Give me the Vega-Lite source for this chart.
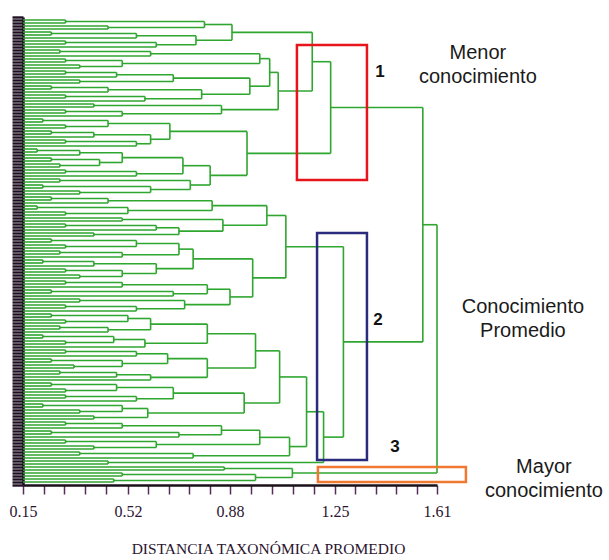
{
"$schema":"https://vega.github.io/schema/vega-lite/v6.json",
"width":414,"height":468,
"autosize":{"type":"none"},
"padding":{"left":23,"top":17,"right":172,"bottom":75},
"background":"white",
"config":{"view":{"stroke":null},"axis":{"grid":false}},
"resolve":{"axis":{"x":"independent","y":"independent"}},
"datasets":{
"h":[
{"y":0,"a":0.15,"b":0.3},{"y":1,"a":0.15,"b":0.3},{"y":2,"a":0.15,"b":0.45},{"y":3,"a":0.15,"b":0.45},{"y":0.5,"a":0.3,"b":0.79},{"y":2.5,"a":0.45,"b":0.79},
{"y":4,"a":0.15,"b":0.25},{"y":5,"a":0.15,"b":0.25},{"y":4.5,"a":0.25,"b":0.55},{"y":6,"a":0.15,"b":0.55},{"y":7,"a":0.15,"b":0.3},{"y":8,"a":0.15,"b":0.3},{"y":7.5,"a":0.3,"b":0.62},{"y":9,"a":0.15,"b":0.62},{"y":5.25,"a":0.55,"b":0.76},{"y":8.25,"a":0.62,"b":0.76},
{"y":1.5,"a":0.79,"b":0.887},{"y":6.75,"a":0.76,"b":0.887},{"y":4.125,"a":0.887,"b":1.17},
{"y":10,"a":0.15,"b":0.28},{"y":11,"a":0.15,"b":0.28},{"y":10.5,"a":0.28,"b":0.6},{"y":12,"a":0.15,"b":0.6},
{"y":13,"a":0.15,"b":0.3},{"y":14,"a":0.15,"b":0.3},{"y":15,"a":0.15,"b":0.35},{"y":16,"a":0.15,"b":0.35},{"y":13.5,"a":0.3,"b":0.5},{"y":15.5,"a":0.35,"b":0.5},
{"y":11.25,"a":0.6,"b":0.985},{"y":14.5,"a":0.5,"b":0.985},{"y":12.875,"a":0.985,"b":1.02},
{"y":17,"a":0.15,"b":0.3},{"y":18,"a":0.15,"b":0.3},{"y":17.5,"a":0.3,"b":0.48},{"y":19,"a":0.15,"b":0.48},{"y":20,"a":0.15,"b":0.35},{"y":21,"a":0.15,"b":0.35},{"y":18.25,"a":0.48,"b":0.68},{"y":20.5,"a":0.35,"b":0.68},
{"y":22,"a":0.15,"b":0.25},{"y":23,"a":0.15,"b":0.25},{"y":22.5,"a":0.25,"b":0.45},{"y":24,"a":0.15,"b":0.45},{"y":25,"a":0.15,"b":0.3},{"y":26,"a":0.15,"b":0.3},{"y":25.5,"a":0.3,"b":0.58},{"y":27,"a":0.15,"b":0.58},{"y":23.25,"a":0.45,"b":0.78},{"y":26.25,"a":0.58,"b":0.78},
{"y":19.375,"a":0.68,"b":0.95},{"y":24.75,"a":0.78,"b":0.95},{"y":22.06,"a":0.95,"b":1.02},{"y":17.47,"a":1.02,"b":1.05},
{"y":28,"a":0.15,"b":0.4},{"y":29,"a":0.15,"b":0.4},{"y":30,"a":0.15,"b":0.3},{"y":31,"a":0.15,"b":0.3},{"y":30.5,"a":0.3,"b":0.5},{"y":32,"a":0.15,"b":0.5},{"y":28.5,"a":0.4,"b":0.85},{"y":31.25,"a":0.5,"b":0.85},{"y":29.875,"a":0.85,"b":1.05},
{"y":23.67,"a":1.05,"b":1.17},{"y":13.9,"a":1.17,"b":1.235},
{"y":33,"a":0.15,"b":0.22},{"y":34,"a":0.15,"b":0.22},{"y":35,"a":0.15,"b":0.3},{"y":36,"a":0.15,"b":0.3},{"y":33.5,"a":0.22,"b":0.45},{"y":35.5,"a":0.3,"b":0.45},
{"y":37,"a":0.15,"b":0.25},{"y":38,"a":0.15,"b":0.25},{"y":37.5,"a":0.25,"b":0.4},{"y":39,"a":0.15,"b":0.4},
{"y":40,"a":0.15,"b":0.3},{"y":41,"a":0.15,"b":0.3},{"y":40.5,"a":0.3,"b":0.55},{"y":42,"a":0.15,"b":0.55},
{"y":38.25,"a":0.4,"b":0.6},{"y":41.25,"a":0.55,"b":0.6},
{"y":34.5,"a":0.45,"b":0.668},{"y":39.75,"a":0.6,"b":0.668},{"y":37.125,"a":0.668,"b":0.94},
{"y":43,"a":0.15,"b":0.2},{"y":44,"a":0.15,"b":0.2},{"y":43.5,"a":0.2,"b":0.35},{"y":45,"a":0.15,"b":0.35},
{"y":46,"a":0.15,"b":0.25},{"y":47,"a":0.15,"b":0.25},{"y":48,"a":0.15,"b":0.28},{"y":49,"a":0.15,"b":0.28},{"y":46.5,"a":0.25,"b":0.42},{"y":48.5,"a":0.28,"b":0.42},
{"y":44.25,"a":0.35,"b":0.5},{"y":47.5,"a":0.42,"b":0.5},
{"y":50,"a":0.15,"b":0.3},{"y":51,"a":0.15,"b":0.3},{"y":50.5,"a":0.3,"b":0.55},{"y":52,"a":0.15,"b":0.55},
{"y":45.875,"a":0.5,"b":0.714},{"y":51.25,"a":0.55,"b":0.714},{"y":48.56,"a":0.714,"b":0.81},
{"y":53,"a":0.15,"b":0.28},{"y":54,"a":0.15,"b":0.28},
{"y":55,"a":0.15,"b":0.22},{"y":56,"a":0.15,"b":0.22},{"y":57,"a":0.15,"b":0.35},{"y":58,"a":0.15,"b":0.35},{"y":55.5,"a":0.22,"b":0.6},{"y":57.5,"a":0.35,"b":0.6},
{"y":53.5,"a":0.28,"b":0.74},{"y":56.5,"a":0.6,"b":0.74},{"y":55,"a":0.74,"b":0.81},
{"y":51.78,"a":0.81,"b":0.94},{"y":44.45,"a":0.94,"b":1.235},{"y":29.18,"a":1.235,"b":1.56},
{"y":59,"a":0.15,"b":0.25},{"y":60,"a":0.15,"b":0.25},{"y":59.5,"a":0.25,"b":0.45},{"y":61,"a":0.15,"b":0.45},
{"y":62,"a":0.15,"b":0.2},{"y":63,"a":0.15,"b":0.2},{"y":64,"a":0.15,"b":0.3},{"y":65,"a":0.15,"b":0.3},{"y":62.5,"a":0.2,"b":0.52},{"y":64.5,"a":0.3,"b":0.52},
{"y":60.25,"a":0.45,"b":0.817},{"y":63.5,"a":0.52,"b":0.817},{"y":61.875,"a":0.817,"b":1.01},
{"y":66,"a":0.15,"b":0.5},{"y":67,"a":0.15,"b":0.5},
{"y":68,"a":0.15,"b":0.3},{"y":69,"a":0.15,"b":0.3},{"y":68.5,"a":0.3,"b":0.62},{"y":70,"a":0.15,"b":0.62},
{"y":71,"a":0.15,"b":0.4},{"y":72,"a":0.15,"b":0.4},
{"y":69.25,"a":0.62,"b":0.7},{"y":71.5,"a":0.4,"b":0.7},
{"y":66.5,"a":0.5,"b":0.855},{"y":70.375,"a":0.7,"b":0.855},{"y":68.44,"a":0.855,"b":1.01},
{"y":65.16,"a":1.01,"b":1.077},
{"y":73,"a":0.15,"b":0.25},{"y":74,"a":0.15,"b":0.25},{"y":75,"a":0.15,"b":0.3},{"y":76,"a":0.15,"b":0.3},{"y":73.5,"a":0.25,"b":0.55},{"y":75.5,"a":0.3,"b":0.55},
{"y":77,"a":0.15,"b":0.28},{"y":78,"a":0.15,"b":0.28},{"y":77.5,"a":0.28,"b":0.5},{"y":79,"a":0.15,"b":0.5},
{"y":74.5,"a":0.55,"b":0.7},{"y":78.25,"a":0.5,"b":0.7},{"y":76.375,"a":0.7,"b":0.75},
{"y":80,"a":0.15,"b":0.22},{"y":81,"a":0.15,"b":0.22},{"y":80.5,"a":0.22,"b":0.4},{"y":82,"a":0.15,"b":0.4},
{"y":83,"a":0.15,"b":0.3},{"y":84,"a":0.15,"b":0.3},{"y":85,"a":0.15,"b":0.35},{"y":86,"a":0.15,"b":0.35},{"y":83.5,"a":0.3,"b":0.5},{"y":85.5,"a":0.35,"b":0.5},
{"y":81.25,"a":0.4,"b":0.62},{"y":84.5,"a":0.5,"b":0.62},{"y":82.875,"a":0.62,"b":0.75},
{"y":79.625,"a":0.75,"b":0.96},
{"y":87,"a":0.15,"b":0.3},{"y":88,"a":0.15,"b":0.3},{"y":87.5,"a":0.3,"b":0.5},{"y":89,"a":0.15,"b":0.5},
{"y":90,"a":0.15,"b":0.25},{"y":91,"a":0.15,"b":0.25},{"y":90.5,"a":0.25,"b":0.68},{"y":92,"a":0.15,"b":0.68},
{"y":88.25,"a":0.5,"b":0.8},{"y":91.25,"a":0.68,"b":0.8},{"y":89.75,"a":0.8,"b":0.88},
{"y":93,"a":0.15,"b":0.35},{"y":94,"a":0.15,"b":0.35},
{"y":95,"a":0.15,"b":0.3},{"y":96,"a":0.15,"b":0.3},{"y":95.5,"a":0.3,"b":0.55},{"y":97,"a":0.15,"b":0.55},
{"y":93.5,"a":0.35,"b":0.72},{"y":96.25,"a":0.55,"b":0.72},{"y":94.875,"a":0.72,"b":0.88},
{"y":92.31,"a":0.88,"b":0.96},{"y":85.97,"a":0.96,"b":1.077},{"y":75.57,"a":1.077,"b":1.28},
{"y":98,"a":0.15,"b":0.25},{"y":99,"a":0.15,"b":0.25},{"y":100,"a":0.15,"b":0.3},{"y":101,"a":0.15,"b":0.3},{"y":98.5,"a":0.25,"b":0.52},{"y":100.5,"a":0.3,"b":0.52},
{"y":102,"a":0.15,"b":0.28},{"y":103,"a":0.15,"b":0.28},{"y":102.5,"a":0.28,"b":0.45},{"y":104,"a":0.15,"b":0.45},
{"y":99.5,"a":0.52,"b":0.6},{"y":103.25,"a":0.45,"b":0.6},
{"y":105,"a":0.15,"b":0.22},{"y":106,"a":0.15,"b":0.22},{"y":107,"a":0.15,"b":0.3},{"y":108,"a":0.15,"b":0.3},{"y":105.5,"a":0.22,"b":0.47},{"y":107.5,"a":0.3,"b":0.47},
{"y":106.5,"a":0.47,"b":0.58},{"y":109,"a":0.15,"b":0.58},
{"y":101.375,"a":0.6,"b":0.8},{"y":107.75,"a":0.58,"b":0.8},{"y":104.56,"a":0.8,"b":0.97},
{"y":110,"a":0.15,"b":0.3},{"y":111,"a":0.15,"b":0.3},{"y":110.5,"a":0.3,"b":0.55},{"y":112,"a":0.15,"b":0.55},
{"y":113,"a":0.15,"b":0.25},{"y":114,"a":0.15,"b":0.25},{"y":115,"a":0.15,"b":0.33},{"y":116,"a":0.15,"b":0.33},{"y":113.5,"a":0.25,"b":0.5},{"y":115.5,"a":0.33,"b":0.5},
{"y":111.25,"a":0.55,"b":0.66},{"y":114.5,"a":0.5,"b":0.66},
{"y":117,"a":0.15,"b":0.28},{"y":118,"a":0.15,"b":0.28},{"y":117.5,"a":0.28,"b":0.48},{"y":119,"a":0.15,"b":0.48},
{"y":118.25,"a":0.48,"b":0.6},{"y":120,"a":0.15,"b":0.6},
{"y":112.875,"a":0.66,"b":0.8},{"y":119.125,"a":0.6,"b":0.8},{"y":116,"a":0.8,"b":0.97},
{"y":110.28,"a":0.97,"b":1.055},
{"y":121,"a":0.15,"b":0.25},{"y":122,"a":0.15,"b":0.25},{"y":123,"a":0.15,"b":0.3},{"y":124,"a":0.15,"b":0.3},{"y":121.5,"a":0.25,"b":0.48},{"y":123.5,"a":0.3,"b":0.48},
{"y":125,"a":0.15,"b":0.3},{"y":126,"a":0.15,"b":0.3},{"y":125.5,"a":0.3,"b":0.55},{"y":127,"a":0.15,"b":0.55},
{"y":122.5,"a":0.48,"b":0.68},{"y":126.25,"a":0.55,"b":0.68},
{"y":128,"a":0.15,"b":0.22},{"y":129,"a":0.15,"b":0.22},{"y":130,"a":0.15,"b":0.35},{"y":131,"a":0.15,"b":0.35},{"y":128.5,"a":0.22,"b":0.5},{"y":130.5,"a":0.35,"b":0.5},
{"y":132,"a":0.15,"b":0.4},{"y":133,"a":0.15,"b":0.4},
{"y":129.5,"a":0.5,"b":0.59},{"y":132.5,"a":0.4,"b":0.59},
{"y":124.375,"a":0.68,"b":0.93},{"y":131,"a":0.59,"b":0.93},{"y":127.69,"a":0.93,"b":1.055},
{"y":118.98,"a":1.055,"b":1.15},
{"y":134,"a":0.15,"b":0.3},{"y":135,"a":0.15,"b":0.3},{"y":134.5,"a":0.3,"b":0.5},{"y":136,"a":0.15,"b":0.5},
{"y":137,"a":0.15,"b":0.25},{"y":138,"a":0.15,"b":0.25},{"y":137.5,"a":0.25,"b":0.7},{"y":139,"a":0.15,"b":0.7},
{"y":135.25,"a":0.5,"b":0.85},{"y":138.25,"a":0.7,"b":0.85},{"y":136.75,"a":0.85,"b":0.985},
{"y":140,"a":0.15,"b":0.3},{"y":141,"a":0.15,"b":0.3},{"y":142,"a":0.15,"b":0.4},{"y":143,"a":0.15,"b":0.4},{"y":140.5,"a":0.3,"b":0.62},{"y":142.5,"a":0.4,"b":0.62},
{"y":141.5,"a":0.62,"b":0.985},{"y":139.125,"a":0.985,"b":1.09},
{"y":144,"a":0.15,"b":0.35},{"y":145,"a":0.15,"b":0.35},{"y":144.5,"a":0.35,"b":0.75},{"y":146,"a":0.15,"b":0.75},
{"y":145.25,"a":0.75,"b":1.09},{"y":142.19,"a":1.09,"b":1.15},
{"y":130.58,"a":1.15,"b":1.21},
{"y":147,"a":0.15,"b":0.45},{"y":148,"a":0.15,"b":0.45},{"y":147.5,"a":0.45,"b":1.21},
{"y":139.04,"a":1.21,"b":1.28},{"y":107.3,"a":1.28,"b":1.56},{"y":68.24,"a":1.56,"b":1.61},
{"y":149,"a":0.15,"b":0.86},{"y":150,"a":0.15,"b":0.86},{"y":151,"a":0.15,"b":0.5},{"y":152,"a":0.15,"b":0.5},{"y":153,"a":0.15,"b":0.47},{"y":154,"a":0.15,"b":0.47},{"y":151.5,"a":0.5,"b":0.97},{"y":153.5,"a":0.47,"b":0.97},{"y":149.5,"a":0.86,"b":1.1},{"y":152.5,"a":0.97,"b":1.1},{"y":151,"a":1.1,"b":1.61}
],
"v":[
{"x":0.3,"a":0,"b":1},{"x":0.45,"a":2,"b":3},{"x":0.79,"a":0.5,"b":2.5},
{"x":0.25,"a":4,"b":5},{"x":0.55,"a":4.5,"b":6},{"x":0.3,"a":7,"b":8},{"x":0.62,"a":7.5,"b":9},{"x":0.76,"a":5.25,"b":8.25},
{"x":0.887,"a":1.5,"b":6.75},
{"x":0.28,"a":10,"b":11},{"x":0.6,"a":10.5,"b":12},{"x":0.3,"a":13,"b":14},{"x":0.35,"a":15,"b":16},{"x":0.5,"a":13.5,"b":15.5},{"x":0.985,"a":11.25,"b":14.5},
{"x":0.3,"a":17,"b":18},{"x":0.48,"a":17.5,"b":19},{"x":0.35,"a":20,"b":21},{"x":0.68,"a":18.25,"b":20.5},
{"x":0.25,"a":22,"b":23},{"x":0.45,"a":22.5,"b":24},{"x":0.3,"a":25,"b":26},{"x":0.58,"a":25.5,"b":27},{"x":0.78,"a":23.25,"b":26.25},
{"x":0.95,"a":19.375,"b":24.75},{"x":1.02,"a":12.875,"b":22.06},
{"x":0.4,"a":28,"b":29},{"x":0.3,"a":30,"b":31},{"x":0.5,"a":30.5,"b":32},{"x":0.85,"a":28.5,"b":31.25},
{"x":1.05,"a":17.47,"b":29.875},{"x":1.17,"a":4.125,"b":23.67},
{"x":0.22,"a":33,"b":34},{"x":0.3,"a":35,"b":36},{"x":0.45,"a":33.5,"b":35.5},
{"x":0.25,"a":37,"b":38},{"x":0.4,"a":37.5,"b":39},{"x":0.3,"a":40,"b":41},{"x":0.55,"a":40.5,"b":42},{"x":0.6,"a":38.25,"b":41.25},
{"x":0.668,"a":34.5,"b":39.75},
{"x":0.2,"a":43,"b":44},{"x":0.35,"a":43.5,"b":45},{"x":0.25,"a":46,"b":47},{"x":0.28,"a":48,"b":49},{"x":0.42,"a":46.5,"b":48.5},{"x":0.5,"a":44.25,"b":47.5},
{"x":0.3,"a":50,"b":51},{"x":0.55,"a":50.5,"b":52},{"x":0.714,"a":45.875,"b":51.25},
{"x":0.28,"a":53,"b":54},{"x":0.22,"a":55,"b":56},{"x":0.35,"a":57,"b":58},{"x":0.6,"a":55.5,"b":57.5},{"x":0.74,"a":53.5,"b":56.5},
{"x":0.81,"a":48.56,"b":55},{"x":0.94,"a":37.125,"b":51.78},{"x":1.235,"a":13.9,"b":44.45},
{"x":0.25,"a":59,"b":60},{"x":0.45,"a":59.5,"b":61},{"x":0.2,"a":62,"b":63},{"x":0.3,"a":64,"b":65},{"x":0.52,"a":62.5,"b":64.5},{"x":0.817,"a":60.25,"b":63.5},
{"x":0.5,"a":66,"b":67},{"x":0.3,"a":68,"b":69},{"x":0.62,"a":68.5,"b":70},{"x":0.4,"a":71,"b":72},{"x":0.7,"a":69.25,"b":71.5},{"x":0.855,"a":66.5,"b":70.375},
{"x":1.01,"a":61.875,"b":68.44},
{"x":0.25,"a":73,"b":74},{"x":0.3,"a":75,"b":76},{"x":0.55,"a":73.5,"b":75.5},{"x":0.28,"a":77,"b":78},{"x":0.5,"a":77.5,"b":79},{"x":0.7,"a":74.5,"b":78.25},
{"x":0.22,"a":80,"b":81},{"x":0.4,"a":80.5,"b":82},{"x":0.3,"a":83,"b":84},{"x":0.35,"a":85,"b":86},{"x":0.5,"a":83.5,"b":85.5},{"x":0.62,"a":81.25,"b":84.5},
{"x":0.75,"a":76.375,"b":82.875},
{"x":0.3,"a":87,"b":88},{"x":0.5,"a":87.5,"b":89},{"x":0.25,"a":90,"b":91},{"x":0.68,"a":90.5,"b":92},{"x":0.8,"a":88.25,"b":91.25},
{"x":0.35,"a":93,"b":94},{"x":0.3,"a":95,"b":96},{"x":0.55,"a":95.5,"b":97},{"x":0.72,"a":93.5,"b":96.25},
{"x":0.88,"a":89.75,"b":94.875},{"x":0.96,"a":79.625,"b":92.31},{"x":1.077,"a":65.16,"b":85.97},
{"x":0.25,"a":98,"b":99},{"x":0.3,"a":100,"b":101},{"x":0.52,"a":98.5,"b":100.5},{"x":0.28,"a":102,"b":103},{"x":0.45,"a":102.5,"b":104},{"x":0.6,"a":99.5,"b":103.25},
{"x":0.22,"a":105,"b":106},{"x":0.3,"a":107,"b":108},{"x":0.47,"a":105.5,"b":107.5},{"x":0.58,"a":106.5,"b":109},{"x":0.8,"a":101.375,"b":107.75},
{"x":0.3,"a":110,"b":111},{"x":0.55,"a":110.5,"b":112},{"x":0.25,"a":113,"b":114},{"x":0.33,"a":115,"b":116},{"x":0.5,"a":113.5,"b":115.5},{"x":0.66,"a":111.25,"b":114.5},
{"x":0.28,"a":117,"b":118},{"x":0.48,"a":117.5,"b":119},{"x":0.6,"a":118.25,"b":120},{"x":0.8,"a":112.875,"b":119.125},
{"x":0.97,"a":104.56,"b":116},
{"x":0.25,"a":121,"b":122},{"x":0.3,"a":123,"b":124},{"x":0.48,"a":121.5,"b":123.5},{"x":0.3,"a":125,"b":126},{"x":0.55,"a":125.5,"b":127},{"x":0.68,"a":122.5,"b":126.25},
{"x":0.22,"a":128,"b":129},{"x":0.35,"a":130,"b":131},{"x":0.5,"a":128.5,"b":130.5},{"x":0.4,"a":132,"b":133},{"x":0.59,"a":129.5,"b":132.5},{"x":0.93,"a":124.375,"b":131},
{"x":1.055,"a":110.28,"b":127.69},
{"x":0.3,"a":134,"b":135},{"x":0.5,"a":134.5,"b":136},{"x":0.25,"a":137,"b":138},{"x":0.7,"a":137.5,"b":139},{"x":0.85,"a":135.25,"b":138.25},
{"x":0.3,"a":140,"b":141},{"x":0.4,"a":142,"b":143},{"x":0.62,"a":140.5,"b":142.5},{"x":0.985,"a":136.75,"b":141.5},
{"x":0.35,"a":144,"b":145},{"x":0.75,"a":144.5,"b":146},{"x":1.09,"a":139.125,"b":145.25},
{"x":1.15,"a":118.98,"b":142.19},{"x":0.45,"a":147,"b":148},{"x":1.21,"a":130.58,"b":147.5},{"x":1.28,"a":75.57,"b":139.04},{"x":1.56,"a":29.18,"b":107.3},
{"x":0.86,"a":149,"b":150},{"x":0.5,"a":151,"b":152},{"x":0.47,"a":153,"b":154},{"x":0.97,"a":151.5,"b":153.5},{"x":1.1,"a":149.5,"b":152.5},
{"x":1.61,"a":68.24,"b":151}
],
"boxes":[
{"box":"1","x0":1.116,"x1":1.363,"y0":8.33,"y1":53.3},
{"box":"2","x0":1.187,"x1":1.363,"y0":71,"y1":146.7},
{"box":"3","x0":1.19,"x1":1.712,"y0":149,"y1":154}
],
"nums":[
{"n":"1","x":1.409,"y":17.3},
{"n":"2","x":1.402,"y":100},
{"n":"3","x":1.462,"y":142.3}
],
"labels":[
{"t":"Menor\nconocimiento","x":1.754,"y":11},
{"t":"Conocimiento\nPromedio","x":1.913,"y":95.7},
{"t":"Mayor\nconocimiento","x":1.987,"y":149}
]
},
"layer":[
{"data":{"name":"h"},
 "mark":{"type":"rule","color":"#2fa62f","strokeWidth":1.6},
 "encoding":{
  "x":{"field":"a","type":"quantitative","scale":{"domain":[0.15,1.61],"nice":false,"zero":false},
   "axis":{"orient":"bottom","values":[0.15,0.223,0.296,0.369,0.442,0.52,0.592,0.664,0.736,0.808,0.88,0.954,1.028,1.102,1.176,1.25,1.322,1.394,1.466,1.538,1.61],
    "labelExpr":"indexof([0.15,0.52,0.88,1.25,1.61], datum.value) >= 0 ? format(datum.value, '.2f') : ''",
    "title":"DISTANCIA TAXONÓMICA PROMEDIO","titleFont":"Liberation Serif","titleFontSize":15.5,"titleFontWeight":"normal","titleColor":"#2a1530",
    "titleX":245,"titleY":63,"titleAlign":"center","titleBaseline":"middle",
    "labelFont":"Liberation Serif","labelFontSize":16,"labelColor":"#2a1530","labelPadding":9,"labelFlush":false,"labelOverlap":false,
    "tickSize":9,"tickColor":"#5a2a5a","tickWidth":1.5,"domainColor":"#1a101a","domainWidth":2.5,"grid":false}},
  "x2":{"field":"b"},
  "y":{"field":"y","type":"quantitative","scale":{"domain":[-1,155],"nice":false,"zero":false,"reverse":true},
   "axis":{"orient":"left","tickCount":160,"labels":false,"title":null,"tickSize":11,"tickColor":"#1e0f22","tickWidth":2.4,"domainColor":"#1e0f22","domainWidth":2.5,"grid":false}}
 }},
{"data":{"name":"v"},
 "mark":{"type":"rule","color":"#2fa62f","strokeWidth":1.6},
 "encoding":{
  "x":{"field":"x","type":"quantitative","scale":{"domain":[0.15,1.61],"nice":false,"zero":false},"axis":null},
  "y":{"field":"a","type":"quantitative","scale":{"domain":[-1,155],"nice":false,"zero":false,"reverse":true},"axis":null},
  "y2":{"field":"b"}
 }},
{"data":{"name":"boxes"},
 "mark":{"type":"rect","filled":false,"strokeWidth":2.5},
 "encoding":{
  "x":{"field":"x0","type":"quantitative","scale":{"domain":[0.15,1.61],"nice":false,"zero":false},"axis":null},
  "x2":{"field":"x1"},
  "y":{"field":"y0","type":"quantitative","scale":{"domain":[-1,155],"nice":false,"zero":false,"reverse":true},"axis":null},
  "y2":{"field":"y1"},
  "color":{"field":"box","type":"nominal","scale":{"domain":["1","2","3"],"range":["#e8141c","#2b2b7d","#f07830"]},"legend":null}
 }},
{"data":{"name":"nums"},
 "mark":{"type":"text","font":"Liberation Sans","fontWeight":"bold","fontSize":17,"color":"#111111","align":"center","baseline":"middle"},
 "encoding":{
  "x":{"field":"x","type":"quantitative","scale":{"domain":[0.15,1.61],"nice":false,"zero":false},"axis":null},
  "y":{"field":"y","type":"quantitative","scale":{"domain":[-1,155],"nice":false,"zero":false,"reverse":true},"axis":null},
  "text":{"field":"n"}
 }},
{"data":{"name":"labels"},
 "mark":{"type":"text","font":"Liberation Sans","fontSize":20,"lineHeight":24,"lineBreak":"\n","color":"#1a1a1a","align":"center","baseline":"middle"},
 "encoding":{
  "x":{"field":"x","type":"quantitative","scale":{"domain":[0.15,1.61],"nice":false,"zero":false},"axis":null},
  "y":{"field":"y","type":"quantitative","scale":{"domain":[-1,155],"nice":false,"zero":false,"reverse":true},"axis":null},
  "text":{"field":"t"}
 }}
]
}
